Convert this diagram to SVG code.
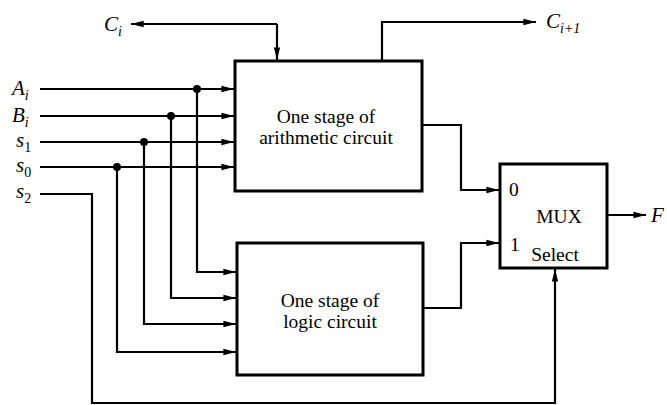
<svg xmlns="http://www.w3.org/2000/svg" width="667" height="405" viewBox="0 0 667 405">
<style>
.w{fill:none;stroke:#000;stroke-width:2.2}
.b{fill:#fff;stroke:#000;stroke-width:3}
.t{font-family:"Liberation Serif",serif;font-size:19.5px;fill:#000}
.l{font-family:"Liberation Serif",serif;font-size:21px;font-style:italic;fill:#000}
.s{font-size:14px}
</style>
<defs>
<marker id="ah2" viewBox="0 0 14 10" refX="14" refY="5" markerWidth="15" markerHeight="9" orient="auto" markerUnits="userSpaceOnUse"><path d="M0,1.5L14,5L0,8.5z" fill="#000"/></marker>
</defs>
<g id="labels">
<text class="l" x="104" y="31">C<tspan class="s" dy="5">i</tspan></text>
<text class="l" x="546" y="28">C<tspan class="s" dy="5">i+1</tspan></text>
<text class="l" x="12" y="95">A<tspan class="s" dy="5">i</tspan></text>
<text class="l" x="12" y="122">B<tspan class="s" dy="5">i</tspan></text>
<text class="l" x="16" y="147">s<tspan class="s" dy="5" font-style="normal">1</tspan></text>
<text class="l" x="16" y="172">s<tspan class="s" dy="5" font-style="normal">0</tspan></text>
<text class="l" x="16" y="198">s<tspan class="s" dy="5" font-style="normal">2</tspan></text>
<text class="l" x="651" y="222">F</text>
</g>
<g id="connectors">
<path class="w" d="M277,24H131" marker-end="url(#ah2)"/>
<path class="w" d="M277,24V60" marker-end="url(#ah2)"/>
<path class="w" d="M382,60V22H536" marker-end="url(#ah2)"/>
<path class="w" d="M40,89H234" marker-end="url(#ah2)"/>
<path class="w" d="M40,116H234" marker-end="url(#ah2)"/>
<path class="w" d="M40,142H234" marker-end="url(#ah2)"/>
<path class="w" d="M40,167H234" marker-end="url(#ah2)"/>
<path class="w" d="M197,89V272H236" marker-end="url(#ah2)"/>
<path class="w" d="M171,116V298H236" marker-end="url(#ah2)"/>
<path class="w" d="M144,142V324H236" marker-end="url(#ah2)"/>
<path class="w" d="M117,167V352H236" marker-end="url(#ah2)"/>
<circle cx="197" cy="89" r="4"/>
<circle cx="171" cy="116" r="4"/>
<circle cx="144" cy="142" r="4"/>
<circle cx="117" cy="167" r="4"/>
<path class="w" d="M40,194H92V403H555V269" marker-end="url(#ah2)"/>
<path class="w" d="M422,125H461V190H499" marker-end="url(#ah2)"/>
<path class="w" d="M423,308H461V243H499" marker-end="url(#ah2)"/>
<path class="w" d="M607,215H646" marker-end="url(#ah2)"/>
</g>
<g id="arith">
<rect class="b" x="235" y="61" width="187" height="130"/>
<text class="t" x="326" y="123" text-anchor="middle">One stage of</text>
<text class="t" x="326" y="144" text-anchor="middle">arithmetic circuit</text>
</g>
<g id="logic">
<rect class="b" x="237" y="243" width="186" height="132"/>
<text class="t" x="330" y="307" text-anchor="middle">One stage of</text>
<text class="t" x="330" y="328" text-anchor="middle">logic circuit</text>
</g>
<g id="mux">
<rect class="b" x="500" y="164" width="107" height="104"/>
<text class="t" x="509" y="196">0</text>
<text class="t" x="559" y="223" text-anchor="middle">MUX</text>
<text class="t" x="510" y="251">1</text>
<text class="t" x="555" y="261" text-anchor="middle">Select</text>
</g>
</svg>
